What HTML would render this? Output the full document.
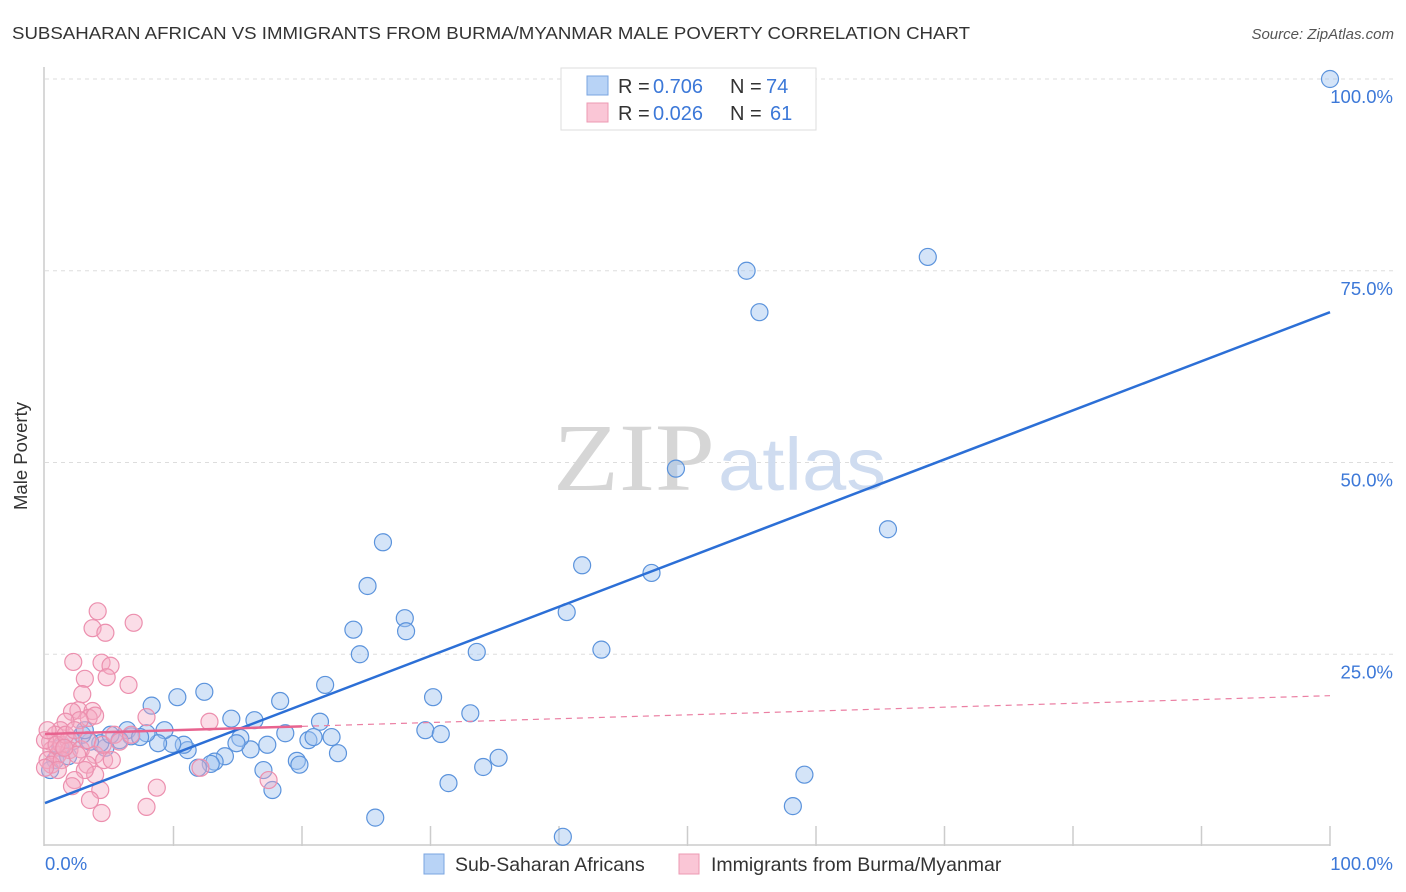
<!DOCTYPE html>
<html><head><meta charset="utf-8"><style>
body{margin:0;background:#fff;font-family:"Liberation Sans",sans-serif;}
svg{display:block}
</style></head><body>
<svg width="1406" height="892" xmlns="http://www.w3.org/2000/svg">
<text x="12" y="39" font-size="17.5" fill="#333" textLength="958" lengthAdjust="spacingAndGlyphs">SUBSAHARAN AFRICAN VS IMMIGRANTS FROM BURMA/MYANMAR MALE POVERTY CORRELATION CHART</text>
<text x="1394" y="39" font-size="15" fill="#555" font-style="italic" text-anchor="end">Source: ZipAtlas.com</text>
<g id="grid"></g>
<g><text x="553" y="490" font-size="96" font-family="Liberation Serif,serif" fill="#d6d6d6" textLength="162" lengthAdjust="spacingAndGlyphs">ZIP</text><text x="718" y="490" font-size="74" fill="#cfdcf0" textLength="168" lengthAdjust="spacingAndGlyphs">atlas</text></g>
<line x1="44" y1="67" x2="44" y2="846" stroke="#ccc" stroke-width="1.5"/>
<line x1="44" y1="845" x2="1330" y2="845" stroke="#ccc" stroke-width="1.5"/>
<g id="xticks"></g>
<g id="marks"></g>
<text x="27" y="456" font-size="18.5" fill="#333" text-anchor="middle" transform="rotate(-90 27 456)">Male Poverty</text>
<text x="45" y="870" font-size="18.5" fill="#3c78d8">0.0%</text>
<text x="1393" y="870" font-size="18.5" fill="#3c78d8" text-anchor="end">100.0%</text>
<g>
<rect x="561" y="68" width="255" height="62" fill="#fff" stroke="#ddd"/>
<rect x="587" y="76" width="21" height="19" fill="#b8d3f6" stroke="#7aa5e0"/>
<rect x="587" y="103" width="21" height="19" fill="#fac6d6" stroke="#ec9ab3"/>
<text x="618" y="93" font-size="20" fill="#333">R =</text><text x="653" y="93" font-size="20" fill="#3c78d8">0.706</text>
<text x="730" y="93" font-size="20" fill="#333">N =</text><text x="766" y="93" font-size="20" fill="#3c78d8">74</text>
<text x="618" y="120" font-size="20" fill="#333">R =</text><text x="653" y="120" font-size="20" fill="#3c78d8">0.026</text>
<text x="730" y="120" font-size="20" fill="#333">N =</text><text x="770" y="120" font-size="20" fill="#3c78d8">61</text>
</g>
<g>
<rect x="424" y="854" width="20" height="20" fill="#b8d3f6" stroke="#7aa5e0"/>
<text x="455" y="871" font-size="19.5" fill="#333">Sub-Saharan Africans</text>
<rect x="679" y="854" width="20" height="20" fill="#fac6d6" stroke="#ec9ab3"/>
<text x="711" y="871" font-size="19.5" fill="#333">Immigrants from Burma/Myanmar</text>
</g>
</svg>
<script>
const yTicks=[25,50,75,100];
const yTickLabels=["25.0%","50.0%","75.0%","100.0%"];
const xTicks=[10,20,30,40,50,60,70,80,90,100];
const blueX=[100,68.7,54.6,55.6,49.1,65.6,26.3,41.8,47.2,25.1,40.6,28.0,28.1,24.0,24.5,43.3,33.6,21.8,30.2,18.3,12.4,10.3,8.3,33.1,21.4,14.5,16.3,29.6,30.8,18.7,20.5,20.9,22.3,22.8,17.3,16.0,15.2,14.9,14.0,13.2,12.9,11.9,11.1,10.8,9.9,9.3,8.8,7.9,6.7,6.4,5.8,4.7,4.3,3.5,2.9,2.2,1.2,0.8,35.3,34.1,31.4,17.0,17.7,19.6,19.8,59.1,58.2,25.7,40.3,0.4,1.8,3.1,5.1,7.4];
const blueY=[100,76.8,75.0,69.6,49.2,41.3,39.6,36.6,35.6,33.9,30.5,29.7,28.0,28.2,25.0,25.6,25.3,21.0,19.4,18.9,20.1,19.4,18.3,17.3,16.2,16.6,16.4,15.1,14.6,14.7,13.8,14.2,14.2,12.1,13.2,12.6,14.1,13.4,11.7,11.0,10.7,10.2,12.5,13.2,13.3,15.1,13.4,14.7,14.3,15.1,13.8,12.8,13.4,13.6,14.5,13.7,12.8,11.2,11.5,10.3,8.2,9.9,7.3,11.1,10.6,9.3,5.2,3.7,1.2,9.9,11.7,15.1,14.5,14.2];
const pinkX=[4.1,3.7,4.7,6.9,2.2,4.4,5.1,3.1,4.8,6.5,2.9,2.6,2.1,3.7,3.4,3.9,2.7,7.9,12.8,1.6,1.2,0.8,0.4,0.5,1.0,1.3,1.8,1.9,0.2,0.5,1.3,2.8,3.3,3.9,4.6,4.5,5.4,3.3,3.9,3.1,2.3,2.1,4.3,3.5,4.4,7.9,8.7,12.1,17.4,0,0.2,0.9,1.6,2.3,1.0,0,5.2,5.8,6.7,2.5,1.5];
const pinkY=[30.6,28.4,27.8,29.1,24.0,23.9,23.5,21.8,22.0,21.0,19.8,17.7,17.5,17.6,16.7,17.0,16.4,16.8,16.2,16.2,15.1,14.5,13.6,12.5,11.9,13.2,13.8,12.5,11.2,10.6,11.2,12.6,13.8,11.9,11.2,13.2,14.5,10.6,9.3,9.9,8.6,7.8,7.3,6.0,4.3,5.1,7.6,10.2,8.6,13.8,15.1,13.2,14.5,15.1,9.9,10.2,11.2,13.6,14.5,11.9,12.8];
const blueTrend=[5.6,69.6];
const pinkTrend=[14.6,19.6];
const pinkSolidEnd=20;
const X=v=>45+v*12.85, Y=v=>846-v*7.67;
const NS="http://www.w3.org/2000/svg";
function mk(tag,attrs,parent){const e=document.createElementNS(NS,tag);for(const k in attrs)e.setAttribute(k,attrs[k]);parent.appendChild(e);return e;}
const grid=document.getElementById('grid'), xt=document.getElementById('xticks'), marks=document.getElementById('marks');
yTicks.forEach((t,i)=>{
  const l=mk('line',{x1:45,x2:1395,y1:Y(t),y2:Y(t),stroke:'#ddd','stroke-dasharray':'4,4'},grid);
  
  
  const tx=mk('text',{x:1393,y:Y(t)+24,'font-size':18.5,fill:'#3c78d8','text-anchor':'end'},grid);
  tx.textContent=yTickLabels[i];
  
  
});
xTicks.forEach(t=>{
  const l=mk('line',{x1:X(t),x2:X(t),y1:826,y2:846,stroke:'#ccc','stroke-width':1.5},xt);
  
  
});
blueX.forEach((x,i)=>{
  const c=mk('circle',{cx:X(x),cy:Y(blueY[i]),r:8.5,fill:'rgba(160,195,240,0.45)',stroke:'#5b93dc','stroke-width':1.2},marks);
  
  
});
pinkX.forEach((x,i)=>{
  const c=mk('circle',{cx:X(x),cy:Y(pinkY[i]),r:8.5,fill:'rgba(245,170,195,0.4)',stroke:'#ec8fae','stroke-width':1.2},marks);
  
  
});
const bl=mk('line',{x1:X(0),y1:Y(blueTrend[0]),x2:X(100),y2:Y(blueTrend[1]),stroke:'#2c6fd6','stroke-width':2.5},marks);


const py=v=>pinkTrend[0]+(pinkTrend[1]-pinkTrend[0])*v/100;
const pd=mk('line',{x1:X(pinkSolidEnd),y1:Y(py(pinkSolidEnd)),x2:X(100),y2:Y(pinkTrend[1]),stroke:'#eb7fa3','stroke-width':1.2,'stroke-dasharray':'6,5'},marks);


const ps=mk('line',{x1:X(0),y1:Y(pinkTrend[0]),x2:X(pinkSolidEnd),y2:Y(py(pinkSolidEnd)),stroke:'#e8638f','stroke-width':2.5},marks);


</script>
</body></html>
